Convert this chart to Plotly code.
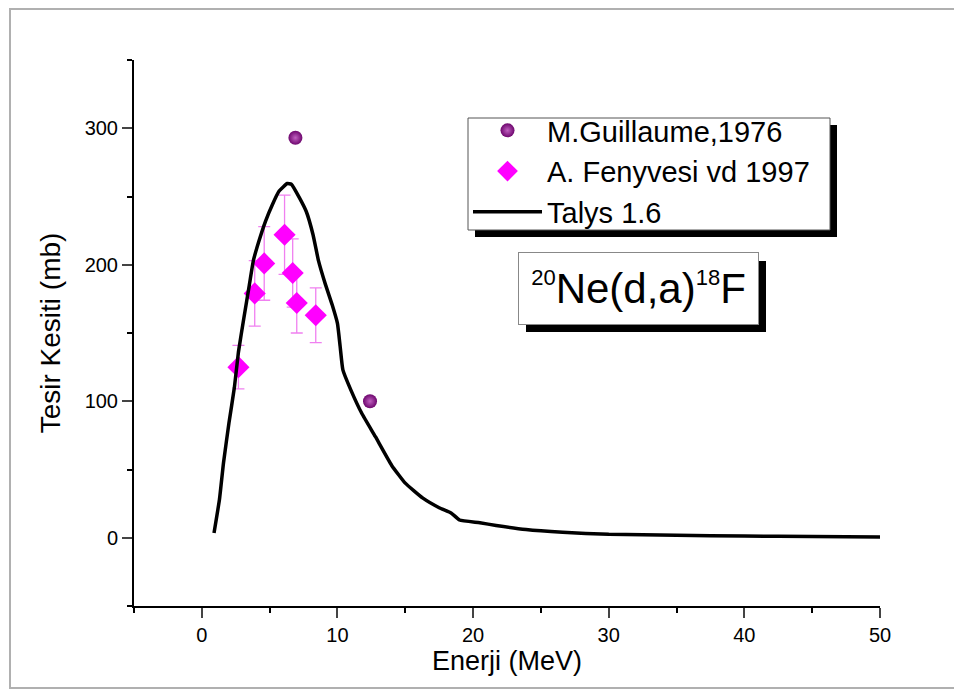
import plotly.graph_objects as go

# Talys 1.6 calculation
talys_x = [0.9, 1.3, 1.6, 2.0, 2.4, 2.7, 3.1, 3.5, 3.8, 4.2, 4.7, 5.2, 5.7, 6.3, 6.6,
           7.2, 7.7, 8.2, 8.6, 9.1, 9.6, 10.0, 10.2, 10.4, 11.0, 11.8, 12.8, 14.0,
           15.0, 16.3, 17.5, 18.4, 19.0, 20.5, 21.7, 23.9, 26.6, 30, 35, 40, 45, 50]
talys_y = [3.5, 28, 55, 84, 110, 136, 161, 185, 203, 217, 232, 244, 254, 259.5, 259,
           249, 239, 222, 203, 186, 171, 157, 140, 123, 108, 91, 74, 53,
           40, 29, 22, 18, 13, 11, 9, 6, 4, 2.5, 1.8, 1.2, 0.9, 0.5]

# M.Guillaume, 1976
guil_x = [6.9, 12.4]
guil_y = [293, 100]

# A. Fenyvesi vd 1997
fen_x = [2.7, 3.9, 4.6, 6.1, 6.7, 7.0, 8.4]
fen_y = [125, 179, 201, 222, 194, 172, 163]
fen_err = [16, 24, 27, 29, 25, 22, 20]

x_ticks = [0, 10, 20, 30, 40, 50]
y_ticks = [0, 100, 200, 300]

FONT = "Liberation Sans, Arial, sans-serif"

# page layout (the page body adds an 8px offset)
W, H = 954, 683
ML, MR, MT, MB = 126, 82, 52, 85
PW, PH = W - ML - MR, H - MT - MB


def px(xp):
    return (xp - 8 - ML) / PW


def py(yp):
    return (H - MB - (yp - 8)) / PH


fig = go.Figure()
fig.add_trace(go.Scatter(
    x=guil_x, y=guil_y, mode="markers", name="M.Guillaume,1976",
    marker=dict(symbol="circle", size=14, color="#6e066e",
                gradient=dict(type="radial", color="#c060c0"),
                line=dict(width=0)),
))
fig.add_trace(go.Scatter(
    x=fen_x, y=fen_y, mode="markers", name="A. Fenyvesi vd 1997",
    marker=dict(symbol="diamond", size=17, color="#ff00ff", line=dict(width=0)),
    error_y=dict(type="data", array=fen_err, visible=True,
                 color="#f080f0", thickness=1.3, width=6),
))
fig.add_trace(go.Scatter(
    x=talys_x, y=talys_y, mode="lines", name="Talys 1.6",
    line=dict(color="black", width=3.5, shape="spline", smoothing=0.4),
))

# legend shadow + box
fig.add_shape(type="rect", xref="paper", yref="paper",
              x0=px(475), x1=px(837), y0=py(237), y1=py(125),
              fillcolor="black", line=dict(width=0), layer="above")
fig.add_shape(type="rect", xref="paper", yref="paper",
              x0=px(468), x1=px(830), y0=py(230), y1=py(118),
              fillcolor="white", line=dict(color="#555555", width=1), layer="above")
# annotation shadow
fig.add_shape(type="rect", xref="paper", yref="paper",
              x0=px(526), x1=px(766), y0=py(332), y1=py(261),
              fillcolor="black", line=dict(width=0), layer="above")
# outer frame
fig.add_shape(type="rect", xref="paper", yref="paper",
              x0=px(10), x1=px(955), y0=py(688), y1=py(9),
              fillcolor="rgba(0,0,0,0)", line=dict(color="#b0b0b0", width=2),
              layer="below")

fig.add_annotation(
    xref="paper", yref="paper", x=px(638.5), y=py(288.5),
    xanchor="center", yanchor="middle",
    text="<sup><span style='font-size:22px'>20</span></sup>Ne(d,a)<sup><span style='font-size:22px'>18</span></sup>F",
    showarrow=False, font=dict(family=FONT, size=42, color="black"),
    bgcolor="white", bordercolor="#888888", borderwidth=1,
    width=237, height=69, align="center", valign="middle",
)

fig.update_layout(
    width=W, height=H,
    margin=dict(l=ML, r=MR, t=MT, b=MB),
    paper_bgcolor="white", plot_bgcolor="white",
    font=dict(family=FONT, color="black"),
    showlegend=True,
    legend=dict(x=px(468), y=py(105), xanchor="left", yanchor="top",
                bgcolor="rgba(0,0,0,0)", borderwidth=0,
                font=dict(family=FONT, size=29, color="black"),
                itemwidth=69, tracegroupgap=0),
    xaxis=dict(range=[-5, 50], tickvals=x_ticks, ticks="outside", ticklen=10,
               tickwidth=2, showline=True, linewidth=2, linecolor="black",
               showgrid=False, zeroline=False,
               tickfont=dict(size=20, family=FONT),
               minor=dict(dtick=5, tick0=0, ticks="outside", ticklen=5,
                          tickwidth=2, tickcolor="black", showgrid=False),
               title=dict(text="Enerji (MeV)", font=dict(size=27, family=FONT),
                          standoff=6)),
    yaxis=dict(range=[-50, 350], tickvals=y_ticks, ticks="outside", ticklen=10,
               tickwidth=2, showline=True, linewidth=2, linecolor="black",
               showgrid=False, zeroline=False,
               tickfont=dict(size=20, family=FONT),
               minor=dict(dtick=50, tick0=0, ticks="outside", ticklen=5,
                          tickwidth=2, tickcolor="black", showgrid=False),
               title=dict(text="Tesir Kesiti (mb)", font=dict(size=28, family=FONT),
                          standoff=16)),
)

fig.write_html("out.html")
